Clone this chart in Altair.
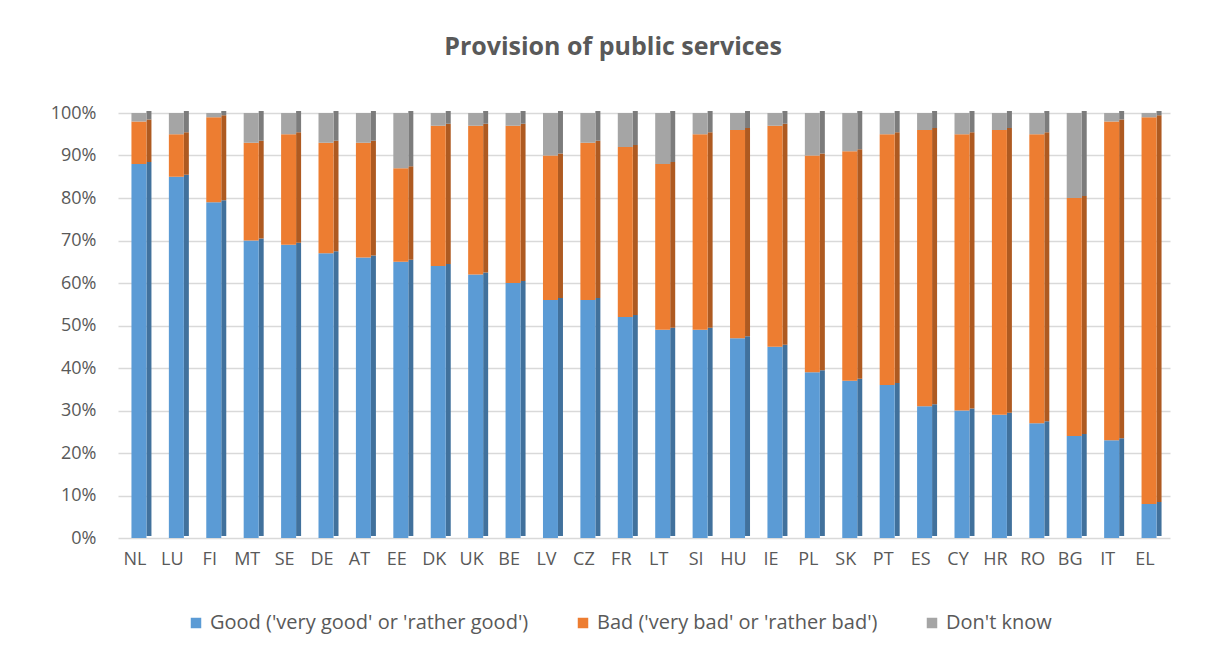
import altair as alt
import pandas as pd

countries = ["NL","LU","FI","MT","SE","DE","AT","EE","DK","UK","BE","LV","CZ","FR",
             "LT","SI","HU","IE","PL","SK","PT","ES","CY","HR","RO","BG","IT","EL"]
good = [88,85,79,70,69,67,66,65,64,62,60,56,56,52,49,49,47,45,39,37,36,31,30,29,27,24,23,8]
bad  = [10,10,20,23,26,26,27,22,33,35,37,34,37,40,39,46,49,52,51,54,59,65,65,67,68,56,75,91]
dont = [2,5,1,7,5,7,7,13,3,3,3,10,7,8,12,5,4,3,10,9,5,4,5,4,5,20,2,1]

series = ["Good ('very good' or 'rather good')", "Bad ('very bad' or 'rather bad')", "Don't know"]
face_colors = ["#5b9bd5", "#ed7d31", "#a5a5a5"]
side_colors = ["#41719c", "#ae5a21", "#7c7c7c"]

rows = []
for i, c in enumerate(countries):
    for k, vals in enumerate([good, bad, dont]):
        rows.append({"country": c, "series": series[k], "value": vals[i] / 100.0,
                     "ord": k, "side": side_colors[k]})
df = pd.DataFrame(rows)

FONT = "Open Sans"

x_enc = alt.X("country:N", sort=countries, title=None,
              scale=alt.Scale(paddingInner=0.6, paddingOuter=0.36),
              axis=alt.Axis(labelAngle=0, domain=False, ticks=False, labelPadding=12,
                            labelOffset=-4, labelFontSize=18, labelColor="#595959", labelFont=FONT))
y_enc = alt.Y("value:Q", stack="zero", title=None,
              scale=alt.Scale(domain=[0, 1], nice=False),
              axis=alt.Axis(format="%", values=[i / 10 for i in range(11)], domain=False, ticks=False,
                            labelPadding=22, labelFontSize=18, labelColor="#595959", labelFont=FONT,
                            gridColor="#d9d9d9", gridWidth=1.5))

side = alt.Chart(df).mark_bar(width=5, xOffset=10, yOffset=-2).encode(
    x=x_enc, y=y_enc,
    color=alt.Color("side:N", scale=None, legend=None),
    order=alt.Order("ord:Q"),
)

face = alt.Chart(df).mark_bar(width=15).encode(
    x=x_enc, y=y_enc,
    color=alt.Color("series:N", sort=series,
                    scale=alt.Scale(domain=series, range=face_colors),
                    legend=alt.Legend(title=None, orient="none", direction="horizontal",
                                      legendX=68, legendY=500, symbolType="square",
                                      symbolSize=110, symbolStrokeWidth=0,
                                      labelFontSize=20, labelColor="#595959", labelFont=FONT,
                                      columnPadding=44, labelLimit=400, labelOffset=4)),
    order=alt.Order("ord:Q"),
)

chart = alt.layer(side, face).resolve_scale(color="independent").properties(
    width=1052, height=425,
    padding={"left": 42, "top": 27, "right": 30, "bottom": 10},
    title=alt.TitleParams("Provision of public services", fontSize=25, fontWeight="bold",
                          color="#595959", font=FONT, anchor="middle", offset=44, dx=-31),
).configure_view(stroke=None)

chart.save("out.html", embed_options={"renderer": "svg", "actions": False})
